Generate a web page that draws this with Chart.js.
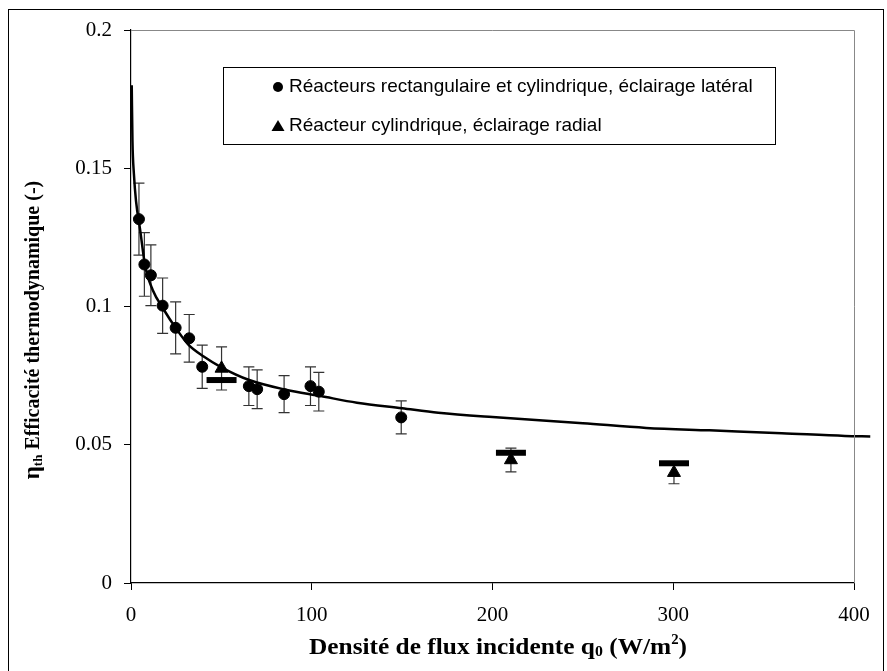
<!DOCTYPE html>
<html>
<head>
<meta charset="utf-8">
<script src="https://cdn.jsdelivr.net/npm/chart.js@4.4.0/dist/chart.umd.min.js"></script>
<style>
  html, body { margin: 0; padding: 0; background: #fff; }
  #wrap { width: 887px; height: 671px; }
</style>
</head>
<body>
<div id="wrap"><canvas id="chart" width="887" height="671"></canvas></div>
<script>
// axis ticks
const xTicks = [0, 100, 200, 300, 400];
const yTicks = [0, 0.05, 0.1, 0.15, 0.2];

// circles: rectangular + cylindrical reactors, lateral lighting
const latLabel = 'Réacteurs rectangulaire et cylindrique, éclairage latéral';
const latX = [4.4, 7.4, 11, 17.5, 24.7, 32.2, 39.4, 65.2, 69.8, 84.7, 99.3, 103.9, 149.5];
const latY = [0.1316, 0.1152, 0.1113, 0.1003, 0.0923, 0.0885, 0.0782, 0.0712, 0.0701, 0.0683, 0.0712, 0.0692, 0.0599];
const latErr = [0.013, 0.0115, 0.011, 0.010, 0.0094, 0.0086, 0.0078, 0.007, 0.007, 0.0067, 0.007, 0.007, 0.006];

// triangles: cylindrical reactor, radial lighting
const radLabel = 'Réacteur cylindrique, éclairage radial';
const radX = [50.1, 210.2, 300.4];
const radY = [0.0776, 0.0445, 0.0399];
const radErr = [0.0078, 0.0043, 0.004];

// thick dashes next to the triangles
const dashX = [50.1, 210.2, 300.4];
const dashY = [0.0734, 0.0471, 0.0433];

// fitted curve, runs a little past x = 400
const fitX = [0.4, 0.8, 1.6, 2.8, 5, 8, 12, 18, 25, 32, 40, 50, 65, 85, 105, 125, 150, 170, 200, 250, 285, 320, 360, 395, 409];
const fitY = [0.180, 0.160, 0.148, 0.138, 0.128, 0.114, 0.106, 0.099, 0.092, 0.086, 0.082, 0.078, 0.0735, 0.0700, 0.0676, 0.0652, 0.0632, 0.0616, 0.0600, 0.0578, 0.0561, 0.0552, 0.0542, 0.0532, 0.0530];

const pts = (xs, ys) => xs.map((x, i) => ({ x: x, y: ys[i] }));

const serif = '"Liberation Serif", "Times New Roman", serif';
const sans = '"Liberation Sans", Arial, sans-serif';

// draw a run of [text, font, dy] pieces starting at x
function drawRun(ctx, parts, x, y) {
  parts.forEach(p => {
    ctx.font = p[1];
    ctx.fillText(p[0], x, y + p[2]);
    x += ctx.measureText(p[0]).width;
  });
}
function runWidth(ctx, parts) {
  let w = 0;
  parts.forEach(p => { ctx.font = p[1]; w += ctx.measureText(p[0]).width; });
  return w;
}

// error bars drawn with the chart's own scales
const errorBars = {
  id: 'errorBars',
  beforeDatasetsDraw(chart) {
    const { ctx, scales: { x, y } } = chart;
    const sets = [[latX, latY, latErr], [radX, radY, radErr]];
    ctx.save();
    ctx.strokeStyle = '#333';
    ctx.lineWidth = 1.2;
    sets.forEach(([xs, ys, es]) => {
      xs.forEach((v, i) => {
        const px = x.getPixelForValue(v);
        const top = y.getPixelForValue(ys[i] + es[i]);
        const bot = y.getPixelForValue(ys[i] - es[i]);
        ctx.beginPath();
        ctx.moveTo(px, top); ctx.lineTo(px, bot);
        ctx.moveTo(px - 5.5, top); ctx.lineTo(px + 5.5, top);
        ctx.moveTo(px - 5.5, bot); ctx.lineTo(px + 5.5, bot);
        ctx.stroke();
      });
    });
    ctx.restore();
  }
};

// frame, plot border, axis titles, legend box
const decor = {
  id: 'decor',
  afterDraw(chart) {
    const { ctx, chartArea: a } = chart;
    ctx.save();
    // outer frame
    ctx.strokeStyle = '#000';
    ctx.lineWidth = 1;
    ctx.strokeRect(8.5, 9.5, 875, 670);
    // top/right plot border
    ctx.strokeStyle = '#888';
    ctx.beginPath();
    ctx.moveTo(a.left, a.top + 0.5); ctx.lineTo(a.right + 0.5, a.top + 0.5);
    ctx.lineTo(a.right + 0.5, a.bottom);
    ctx.stroke();

    ctx.fillStyle = '#000';
    ctx.textBaseline = 'alphabetic';

    // x title with sub/superscript, fitted to its width in the picture
    const xParts = [
      ['Densité de flux incidente q', 'bold 24px ' + serif, 0],
      ['0', 'bold 15px ' + serif, 2],
      [' (W/m', 'bold 24px ' + serif, 0],
      ['2', 'bold 14px ' + serif, -10],
      [')', 'bold 24px ' + serif, 0]
    ];
    let w = runWidth(ctx, xParts);
    let sx = Math.min(1.25, Math.max(0.85, 378 / w));
    ctx.save();
    ctx.translate(498 - (w * sx) / 2, 654);
    ctx.scale(sx, 1);
    drawRun(ctx, xParts, 0, 0);
    ctx.restore();

    // y title, rotated
    const yParts = [
      ['η', 'bold 23px ' + serif, 0],
      ['th', 'bold 13px ' + serif, 3],
      [' Efficacité thermodynamique (-)', 'bold 20px ' + serif, 0]
    ];
    w = runWidth(ctx, yParts);
    ctx.save();
    ctx.translate(39, 330);
    ctx.rotate(-Math.PI / 2);
    drawRun(ctx, yParts, -w / 2, 0);
    ctx.restore();

    // legend
    ctx.strokeStyle = '#000';
    ctx.lineWidth = 1;
    ctx.strokeRect(223.5, 67.5, 552, 77);
    ctx.beginPath();
    ctx.arc(278, 87, 5, 0, Math.PI * 2);
    ctx.fill();
    ctx.beginPath();
    ctx.moveTo(278, 120); ctx.lineTo(284.5, 131); ctx.lineTo(271.5, 131);
    ctx.closePath();
    ctx.fill();
    ctx.font = '19px ' + sans;
    ctx.textBaseline = 'middle';
    ctx.fillText(latLabel, 289, 87);
    ctx.fillText(radLabel, 289, 126);
    ctx.restore();
  }
};

new Chart(document.getElementById('chart'), {
  type: 'scatter',
  data: {
    datasets: [
      {
        label: 'fit',
        type: 'line',
        data: pts(fitX, fitY),
        borderColor: '#000',
        borderWidth: 2.5,
        pointRadius: 0,
        cubicInterpolationMode: 'monotone',
        fill: false,
        clip: false,
        order: 4
      },
      {
        label: latLabel,
        data: pts(latX, latY),
        backgroundColor: '#000',
        borderColor: '#000',
        pointStyle: 'circle',
        pointRadius: 5.5,
        order: 2
      },
      {
        label: radLabel,
        data: pts(radX, radY),
        backgroundColor: '#000',
        borderColor: '#000',
        pointStyle: 'triangle',
        pointRadius: 7.5,
        order: 1
      },
      {
        label: 'dash',
        data: pts(dashX, dashY),
        borderColor: '#000',
        pointStyle: 'line',
        pointRadius: 15,
        pointBorderWidth: 6,
        order: 3
      }
    ]
  },
  options: {
    responsive: false,
    animation: false,
    layout: { padding: { left: 0, top: 30, right: 33, bottom: 0 } },
    plugins: { legend: { display: false }, tooltip: { enabled: false } },
    scales: {
      x: {
        type: 'linear',
        min: 0,
        max: 400,
        afterFit: s => { s.height = 88; },
        afterBuildTicks: s => { s.ticks = xTicks.map(v => ({ value: v })); },
        ticks: { color: '#000', font: { family: serif, size: 21 }, padding: 13, maxRotation: 0 },
        grid: { drawOnChartArea: false, tickLength: 7, color: '#000' },
        border: { color: '#000', width: 1.2 }
      },
      y: {
        min: 0,
        max: 0.2,
        afterFit: s => { s.width = 131; },
        afterBuildTicks: s => { s.ticks = yTicks.map(v => ({ value: v })); },
        ticks: {
          color: '#000',
          font: { family: serif, size: 21 },
          padding: 12,
          callback: v => String(+v.toFixed(2))
        },
        grid: { drawOnChartArea: false, tickLength: 7, color: '#000' },
        border: { color: '#000', width: 1.2 }
      }
    }
  },
  plugins: [errorBars, decor]
});
</script>
</body>
</html>
